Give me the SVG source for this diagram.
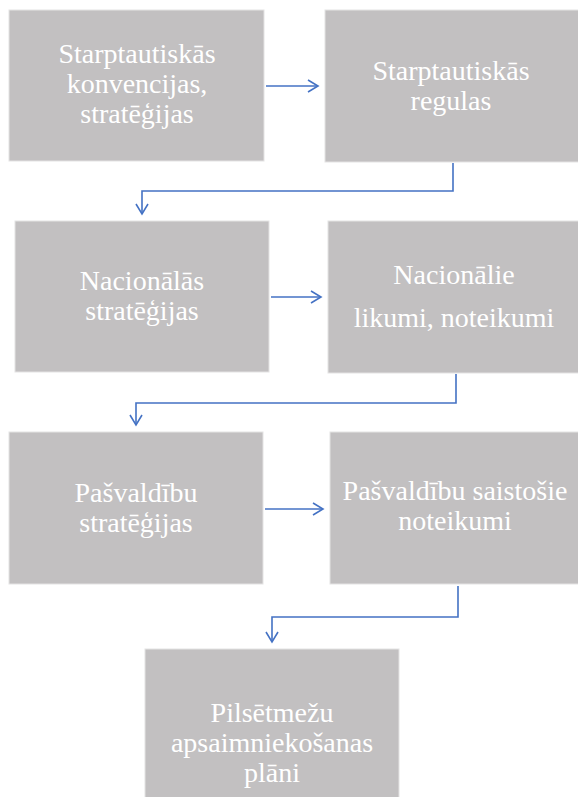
<svg xmlns="http://www.w3.org/2000/svg" width="578" height="797" viewBox="0 0 578 797">
<style>
.box{fill:#c2c0c1;stroke:#e4e3e3;stroke-width:1}
.t{font-family:'Liberation Serif','Times New Roman',serif;font-size:28px;fill:#ffffff;text-anchor:middle}
.c{fill:none;stroke:#4472c4;stroke-width:1.6;marker-end:url(#ah)}
</style>
<defs>
<marker id="ah" markerWidth="14" markerHeight="14" refX="11" refY="7" orient="auto" markerUnits="userSpaceOnUse">
<path d="M1,1 L11,7 L1,13" fill="none" stroke="#4472c4" stroke-width="1.6"/>
</marker>
</defs>
<rect width="578" height="797" fill="#ffffff"/>
<g id="n1"><rect class="box" x="9" y="10" width="255" height="151"/>
<text class="t" x="137" y="63">Starptautiskās</text><text class="t" x="137" y="93">konvencijas,</text><text class="t" x="137" y="123">stratēģijas</text></g>
<g id="n2"><rect class="box" x="325" y="10" width="254" height="152"/>
<text class="t" x="451" y="80">Starptautiskās</text><text class="t" x="451" y="110">regulas</text></g>
<g id="n3"><rect class="box" x="15" y="221" width="254" height="151"/>
<text class="t" x="142" y="290">Nacionālās</text><text class="t" x="142" y="320">stratēģijas</text></g>
<g id="n4"><rect class="box" x="328" y="221" width="251" height="152"/>
<text class="t" x="454" y="284">Nacionālie</text><text class="t" x="454" y="327">likumi, noteikumi</text></g>
<g id="n5"><rect class="box" x="9" y="432" width="254" height="152"/>
<text class="t" x="136" y="502">Pašvaldību</text><text class="t" x="136" y="532">stratēģijas</text></g>
<g id="n6"><rect class="box" x="330" y="432" width="249" height="152"/>
<text class="t" x="455" y="500">Pašvaldību saistošie</text><text class="t" x="455" y="530">noteikumi</text></g>
<g id="n7"><rect class="box" x="145" y="649" width="254" height="149"/>
<text class="t" x="272" y="722">Pilsētmežu</text><text class="t" x="272" y="752">apsaimniekošanas</text><text class="t" x="272" y="782">plāni</text></g>
<g id="connectors">
<path class="c" d="M266,86 L318,86"/>
<path class="c" d="M453,163 L453,191 L142,191 L142,214"/>
<path class="c" d="M271,297 L321,297"/>
<path class="c" d="M456,374 L456,403 L136,403 L136,425"/>
<path class="c" d="M265,509 L323,509"/>
<path class="c" d="M458,586 L458,617 L272,617 L272,642"/>
</g>
</svg>
